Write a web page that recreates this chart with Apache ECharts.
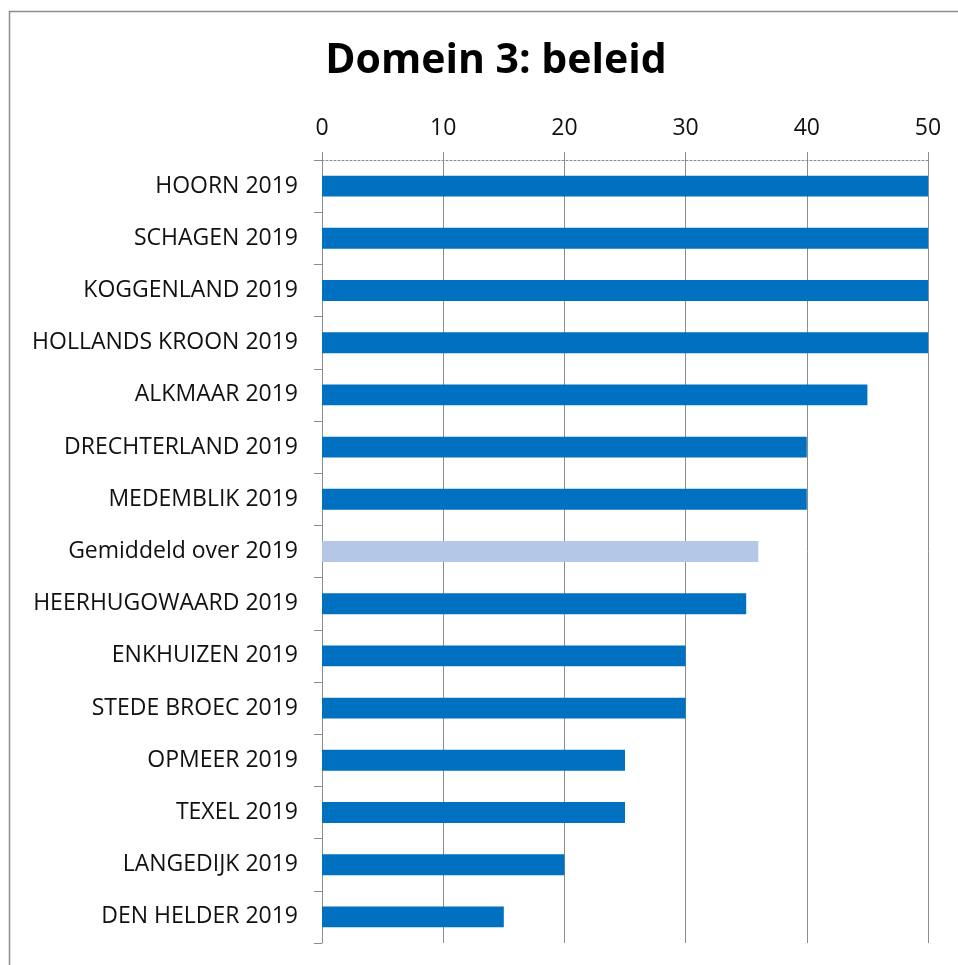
<!DOCTYPE html>
<html>
<head>
<meta charset="utf-8">
<title>Domein 3: beleid</title>
<script src="https://cdn.jsdelivr.net/npm/echarts@6/dist/echarts.min.js"></script>
<style>
  html, body { margin: 0; padding: 0; background: #fff; }
  #chart { width: 958px; height: 965px; }
</style>
</head>
<body>
<div id="chart"></div>
<script>
// data, top to bottom as in the picture
const categories = [
  'HOORN 2019', 'SCHAGEN 2019', 'KOGGENLAND 2019', 'HOLLANDS KROON 2019',
  'ALKMAAR 2019', 'DRECHTERLAND 2019', 'MEDEMBLIK 2019', 'Gemiddeld over 2019',
  'HEERHUGOWAARD 2019', 'ENKHUIZEN 2019', 'STEDE BROEC 2019', 'OPMEER 2019',
  'TEXEL 2019', 'LANGEDIJK 2019', 'DEN HELDER 2019'
]
const scores = [50, 50, 50, 50, 45, 40, 40, 36, 35, 30, 30, 25, 25, 20, 15]
const averageLabel = 'Gemiddeld over 2019'
const xTicks = [0, 10, 20, 30, 40, 50]

const barBlue = '#0070C0'
const avgBlue = '#B4C7E7'
const lineGray = '#8c8c8c'
const font = '"Open Sans", "Liberation Sans", sans-serif'

const chart = echarts.init(document.getElementById('chart'), null, { renderer: 'canvas' })

chart.setOption({
  animation: false,
  backgroundColor: '#fff',
  title: {
    text: 'Domein 3: beleid',
    left: 491,
    textAlign: 'center',
    top: 36,
    textStyle: { fontFamily: font, fontSize: 41, fontWeight: 'bold', color: '#000' },
  },
  graphic: [{
    type: 'rect',
    shape: { x: 9.5, y: 11.5, width: 970, height: 980 },
    style: { fill: 'none', stroke: lineGray, lineWidth: 1.5 },
    silent: true,
  }],
  grid: { left: 322, right: 30, top: 160, bottom: 22, containLabel: false },
  xAxis: {
    type: 'value',
    position: 'top',
    min: xTicks[0],
    max: xTicks[xTicks.length - 1],
    interval: 10,
    axisLine: { show: true, lineStyle: { color: lineGray, type: [2, 2], width: 1 } },
    axisTick: { show: true, length: 8, lineStyle: { color: lineGray } },
    axisLabel: { margin: 20, color: '#111', fontFamily: font, fontSize: 23 },
    splitLine: { show: true, lineStyle: { color: lineGray, width: 1 } },
  },
  yAxis: {
    type: 'category',
    inverse: true,
    data: categories,
    axisLine: { show: true, lineStyle: { color: lineGray, width: 1 } },
    axisTick: { show: true, length: 8, lineStyle: { color: lineGray } },
    axisLabel: { margin: 24, color: '#111', fontFamily: font, fontSize: 23 },
    splitLine: { show: false },
  },
  series: [{
    type: 'bar',
    data: scores.map((v, i) => ({
      value: v,
      itemStyle: { color: categories[i] === averageLabel ? avgBlue : barBlue },
    })),
    barCategoryGap: '60%',
  }],
})
</script>
</body>
</html>
